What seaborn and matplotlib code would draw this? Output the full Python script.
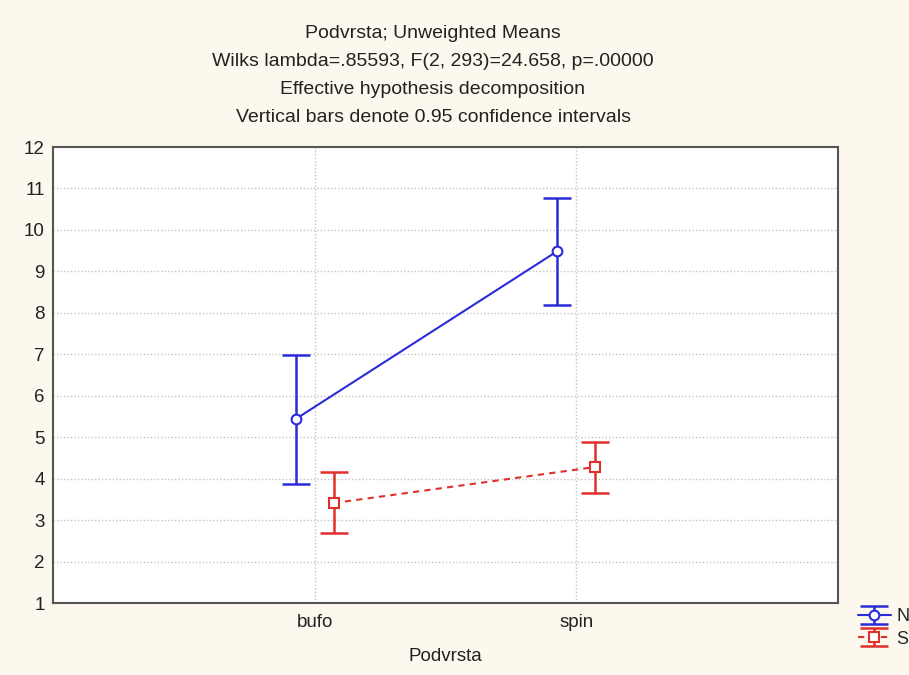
import numpy as np
import pandas as pd
import matplotlib
matplotlib.use('Agg')
import matplotlib.pyplot as plt
from matplotlib.legend_handler import HandlerTuple
import seaborn as sns

# Подвид и группы
categories = ['bufo', 'spin']
groups = ['N', 'S']

# Средние и 95% доверительные интервалы
mean_n = [5.44, 9.49]
lo_n = [3.87, 8.19]
hi_n = [6.98, 10.77]
mean_s = [3.41, 4.28]
lo_s = [2.69, 3.65]
hi_s = [4.16, 4.88]

title_lines = ['Podvrsta; Unweighted Means',
               'Wilks lambda=.85593, F(2, 293)=24.658, p=.00000',
               'Effective hypothesis decomposition',
               'Vertical bars denote 0.95 confidence intervals']

sns.set_style('white')
plt.rcParams['font.family'] = ['Liberation Sans', 'DejaVu Sans']

bg = '#fcf8ee'
blue = '#2b2bd9'
red = '#e0302c'

pos = np.arange(len(categories))
dodge = 0.072
df = pd.DataFrame({
    'x': np.concatenate([pos - dodge, pos + dodge]),
    'mean': mean_n + mean_s,
    'lo': lo_n + lo_s,
    'hi': hi_n + hi_s,
    'grupa': [groups[0]] * 2 + [groups[1]] * 2,
})

fig = plt.figure(figsize=(9.09, 6.75), dpi=100, facecolor=bg)
ax = fig.add_axes([53 / 909, 1 - 603 / 675, (838 - 53) / 909, (603 - 147) / 675])
ax.set_facecolor('white')

# Сетка
for v in range(2, 12):
    ax.axhline(v, color='#c4c4c4', lw=1, ls=(0, (1, 1.5)), zorder=0)
for p in pos:
    ax.axvline(p, color='#c4c4c4', lw=1, ls=(0, (1, 1.5)), zorder=0)

styles = {'N': dict(color=blue, marker='o', ls='-', ms=7),
          'S': dict(color=red, marker='s', ls=(0, (3, 2.5)), ms=6.5)}
handles = []
for g in groups:
    d = df[df['grupa'] == g]
    st = styles[g]
    sns.lineplot(data=d, x='x', y='mean', ax=ax, color=st['color'], lw=1.5,
                 linestyle=st['ls'], marker=st['marker'], markersize=st['ms'],
                 markerfacecolor='white', markeredgecolor=st['color'],
                 markeredgewidth=1.5, legend=False, zorder=4)
    line = ax.lines[-1]
    eb = ax.errorbar(d['x'], d['mean'],
                     yerr=[d['mean'] - d['lo'], d['hi'] - d['mean']],
                     fmt='none', ecolor=st['color'], elinewidth=1.8,
                     capsize=10, capthick=1.8, zorder=3)
    handles.append((eb, line))

ax.set_xlim(-1, 2)
ax.set_ylim(1, 12)
ax.set_xticks(pos)
ax.set_xticklabels(categories)
ax.set_yticks(range(1, 13))
ax.tick_params(direction='in', length=4, width=1.2, colors='#444444',
               labelcolor='#222222', labelsize=13.5, pad=8)
ax.tick_params(axis='y', pad=6)
for s in ax.spines.values():
    s.set_color('#555555')
    s.set_linewidth(1.5)

ax.set_xlabel('Podvrsta', fontsize=13.5, color='#222222', labelpad=12)
ax.set_ylabel('')

for i, t in enumerate(title_lines):
    fig.text(433 / 909, 1 - (34 + 28 * i) / 675, t, ha='center', va='center',
             fontsize=14, color='#222222')

fig.legend(handles, groups, handler_map={tuple: HandlerTuple(ndivide=1)},
           loc='upper left', bbox_to_anchor=(851 / 909, 1 - 601 / 675),
           frameon=False, fontsize=13, handlelength=1.8, handletextpad=0.3,
           labelspacing=0.3, borderaxespad=0)

fig.savefig('out.png', dpi=100, facecolor=bg)
